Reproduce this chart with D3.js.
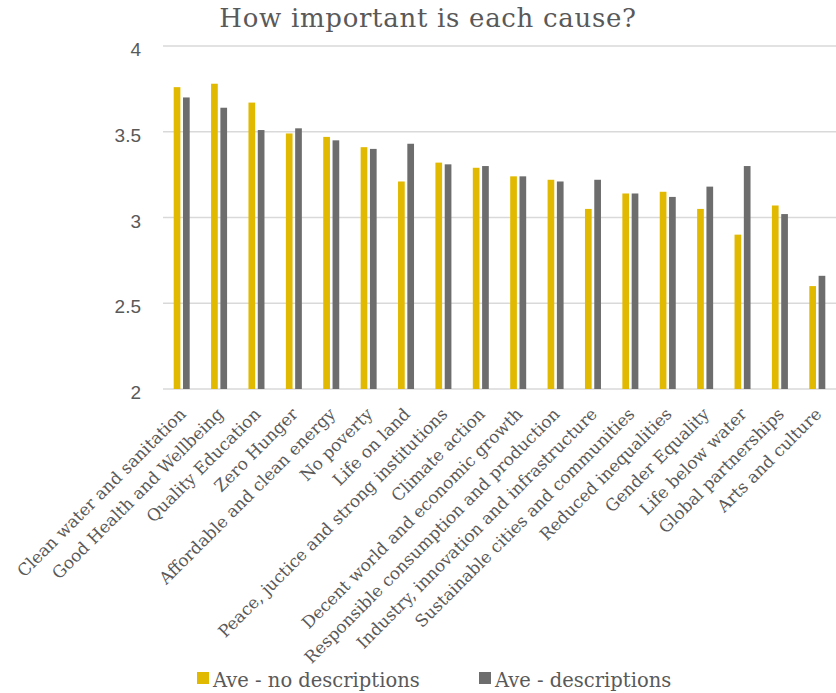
<!DOCTYPE html>
<html>
<head>
<meta charset="utf-8">
<script src="https://cdn.jsdelivr.net/npm/d3@7"></script>
<style>
  html, body { margin: 0; padding: 0; background: #ffffff; }
  svg { display: block; }
</style>
</head>
<body>
<svg id="chart" width="836" height="693"></svg>
<script>
// Causes, in the order they are plotted
const causes = [
  "Clean water and sanitation",
  "Good Health and Wellbeing",
  "Quality Education",
  "Zero Hunger",
  "Affordable and clean energy",
  "No poverty",
  "Life on land",
  "Peace, juctice and strong institutions",
  "Climate action",
  "Decent world and economic growth",
  "Responsible consumption and production",
  "Industry, innovation and infrastructure",
  "Sustainable cities and communities",
  "Reduced inequalities",
  "Gender Equality",
  "Life below water",
  "Global partnerships",
  "Arts and culture"
];

// Average importance score without descriptions
const aveNoDescriptions = [3.76, 3.78, 3.67, 3.49, 3.47, 3.41, 3.21, 3.32, 3.29, 3.24, 3.22, 3.05, 3.14, 3.15, 3.05, 2.90, 3.07, 2.60];

// Average importance score with descriptions
const aveDescriptions = [3.70, 3.64, 3.51, 3.52, 3.45, 3.40, 3.43, 3.31, 3.30, 3.24, 3.21, 3.22, 3.14, 3.12, 3.18, 3.30, 3.02, 2.66];

const seriesNames = ["Ave - no descriptions", "Ave - descriptions"];
const seriesColors = ["#E1B900", "#6D6D6D"];
const yTicks = [2, 2.5, 3, 3.5, 4];

const svg = d3.select("#chart");
const W = 836;
const plotLeft = 163, plotTop = 46, plotBottom = 389;

const x = d3.scaleBand()
  .domain(causes)
  .range([plotLeft, W])
  .paddingInner(0)
  .paddingOuter(0);

const y = d3.scaleLinear()
  .domain([2, 4])
  .range([plotBottom, plotTop]);

const inner = d3.scaleBand()
  .domain([0, 1])
  .range([0, x.bandwidth()])
  .paddingInner(0.28)
  .paddingOuter(1.15);

const textGray = "#595959";
const slab = "'DejaVu Serif', serif";

// Title
svg.append("text")
  .attr("x", 428)
  .attr("y", 27)
  .attr("text-anchor", "middle")
  .attr("font-family", slab)
  .attr("font-size", 26)
  .attr("letter-spacing", 0.7)
  .attr("fill", textGray)
  .text("How important is each cause?");

// Horizontal gridlines
svg.append("g")
  .selectAll("line")
  .data(yTicks)
  .join("line")
  .attr("x1", plotLeft)
  .attr("x2", W)
  .attr("y1", d => y(d))
  .attr("y2", d => y(d))
  .attr("stroke", "#D9D9D9")
  .attr("stroke-width", 1.5);

// Y axis labels
const yAxis = d3.axisLeft(y)
  .tickValues(yTicks)
  .tickFormat(d3.format("~g"))
  .tickSize(0)
  .tickPadding(22);

const yg = svg.append("g")
  .attr("transform", `translate(${plotLeft},0)`)
  .call(yAxis);
yg.select(".domain").remove();
yg.selectAll("text")
  .attr("font-family", "'Liberation Sans', Arial, sans-serif")
  .attr("font-size", 19)
  .attr("fill", textGray)
  .attr("dy", "0.5em");

// Bars
const series = [aveNoDescriptions, aveDescriptions];
series.forEach((vals, si) => {
  svg.append("g")
    .selectAll("rect")
    .data(causes.map((c, i) => ({ c, v: vals[i] })))
    .join("rect")
    .attr("x", d => x(d.c) + inner(si))
    .attr("width", inner.bandwidth())
    .attr("y", d => y(d.v))
    .attr("height", d => y(2) - y(d.v))
    .attr("fill", seriesColors[si]);
});

// Category labels, rotated
svg.append("g")
  .selectAll("text")
  .data(causes)
  .join("text")
  .attr("transform", d => `translate(${x(d) + x.bandwidth() / 2 + 1},${plotBottom + 22}) rotate(-45)`)
  .attr("text-anchor", "end")
  .attr("dy", "0.35em")
  .attr("font-family", slab)
  .attr("font-size", 16.8)
  .attr("fill", textGray)
  .text(d => d);

// Legend
const legendItems = [
  { name: seriesNames[0], color: seriesColors[0], x: 197 },
  { name: seriesNames[1], color: seriesColors[1], x: 479 }
];
const lg = svg.append("g");
legendItems.forEach(item => {
  lg.append("rect")
    .attr("x", item.x)
    .attr("y", 672)
    .attr("width", 12)
    .attr("height", 12)
    .attr("fill", item.color);
  lg.append("text")
    .attr("x", item.x + 16)
    .attr("y", 687)
    .attr("font-family", slab)
    .attr("font-size", 19.5)
    .attr("fill", textGray)
    .text(item.name);
});
</script>
</body>
</html>
